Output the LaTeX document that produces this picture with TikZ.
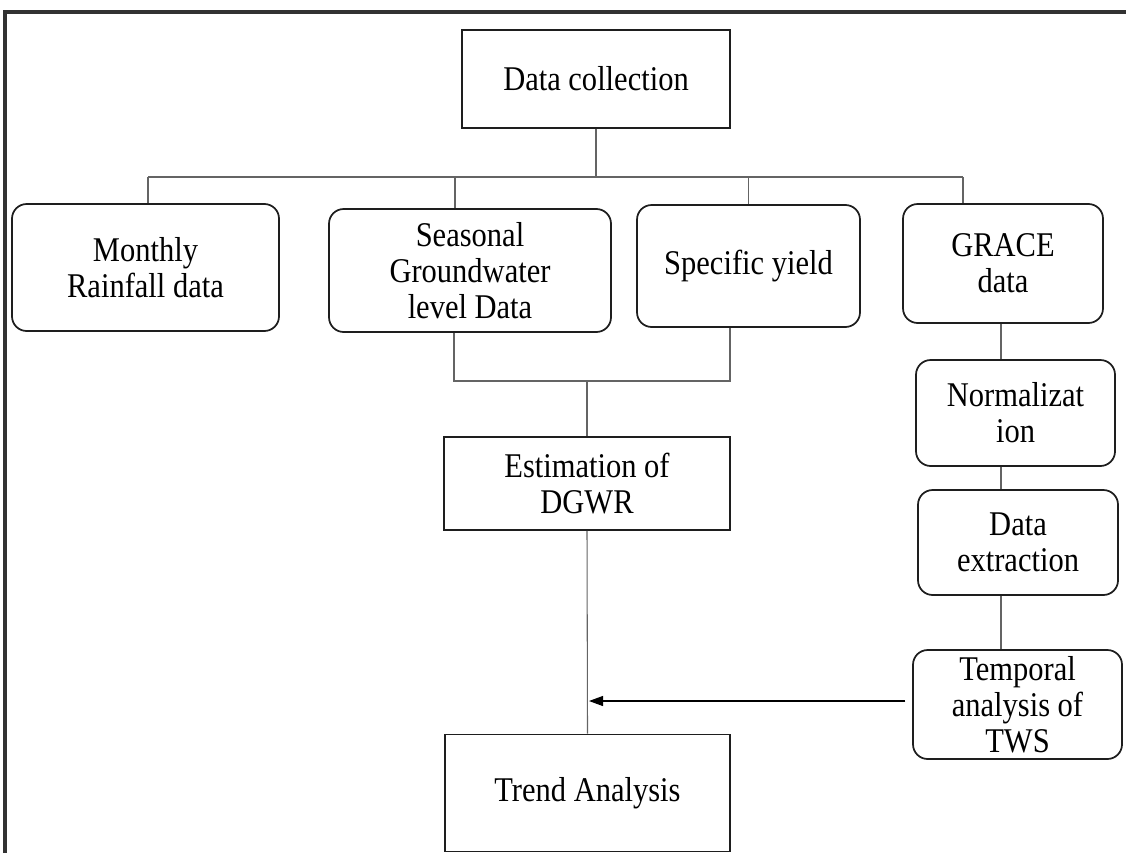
\documentclass[tikz,border=0pt]{standalone}
\usepackage{amsmath,amssymb}
\usepackage{fontspec}
\setmainfont[FakeStretch=0.88]{Liberation Serif}
\usetikzlibrary{arrows.meta}

\tikzset{
  blockbox/.style={draw={rgb, 255:red, 30; green, 30; blue, 30 }, line width=1.3pt, rectangle, align=center, inner sep=2pt},
  roundbox/.style={blockbox, rounded corners=11pt},
  wire/.style={draw={rgb, 255:red, 100; green, 100; blue, 100 }, line width=0.8pt},
  frameline/.style={draw={rgb, 255:red, 50; green, 50; blue, 50 }, line width=2.6pt}
}

\begin{document}
\begin{tikzpicture}[x=0.75pt,y=0.75pt,yscale=-1,xscale=1,font=\fontsize{26}{27}\selectfont]
\useasboundingbox (0,0) rectangle (1126,853);

%Frame
\draw [frameline] (5,853) -- (5,12) -- (1126,12) ;

%Shape: Rectangle [id:collect]
\node [blockbox, minimum width=268*0.75pt, minimum height=98*0.75pt] (collect) at (596,79) {Data collection};

%Shape: Rounded Rect [id:monthly]
\node [roundbox, minimum width=267*0.75pt, minimum height=127*0.75pt] (monthly) at (145.5,267.5) {Monthly\\Rainfall data};
%Shape: Rounded Rect [id:seasonal]
\node [roundbox, minimum width=282*0.75pt, minimum height=123*0.75pt] (seasonal) at (470,270.5) {Seasonal\\Groundwater\\level Data};
%Shape: Rounded Rect [id:specific]
\node [roundbox, minimum width=223*0.75pt, minimum height=122*0.75pt] (specific) at (748.5,266) {Specific yield};
%Shape: Rounded Rect [id:grace]
\node [roundbox, minimum width=200*0.75pt, minimum height=119*0.75pt] (grace) at (1003,263.5) {GRACE\\data};

%Shape: Rounded Rect [id:normal]
\node [roundbox, minimum width=199*0.75pt, minimum height=106*0.75pt] (normal) at (1015.5,413) {Normalizat\\ion};
%Shape: Rounded Rect [id:extract]
\node [roundbox, minimum width=200*0.75pt, minimum height=105*0.75pt] (extract) at (1018,542.5) {Data\\extraction};
%Shape: Rounded Rect [id:temporal]
\node [roundbox, minimum width=209*0.75pt, minimum height=109*0.75pt] (temporal) at (1017.5,704.5) {Temporal\\analysis of\\TWS};

%Shape: Rectangle [id:dgwr]
\node [blockbox, minimum width=286*0.75pt, minimum height=93*0.75pt] (dgwr) at (587,483.5) {Estimation of\\DGWR};
%Shape: Rectangle [id:trend]
\node [blockbox, minimum width=285*0.75pt, minimum height=117*0.75pt] (trend) at (587.5,793) {Trend Analysis};

%Straight Lines [id:bus]
\coordinate (busL) at (148,177) ;
\coordinate (busS) at (455,177) ;
\coordinate (busR) at (963,177) ;
\draw [wire] (collect.south) -- (collect.south |- busL) ;
\draw [wire] (busL) -- (busR) ;
\draw [wire] (busL) -- (busL |- monthly.north) ;
\draw [wire] (busS) -- (busS |- seasonal.north) ;
\draw [wire] (specific.north |- busL) -- (specific.north) ;
\draw [wire] (busR) -- (busR |- grace.north) ;

%Straight Lines [id:join]
\coordinate (joinL) at (454,381) ;
\coordinate (joinR) at (730,381) ;
\draw [wire] (joinL |- seasonal.south) -- (joinL) -- (joinR) -- (joinR |- specific.south) ;
\draw [wire] (dgwr.north |- joinL) -- (dgwr.north) ;
\draw [wire] (dgwr.south) -- (trend.north) ;

%Straight Lines [id:chain]
\coordinate (chain) at (1001,0) ;
\draw [wire] (chain |- grace.south) -- (chain |- normal.north) ;
\draw [wire] (chain |- normal.south) -- (chain |- extract.north) ;
\draw [wire] (chain |- extract.south) -- (chain |- temporal.north) ;

%Straight Lines [id:arrow]
\coordinate (meet) at (589,701) ;
\draw [wire, draw=black, -{Triangle[length=10.5pt,width=7.5pt]}, shorten <=5pt] (meet -| temporal.west) -- (meet) ;

\end{tikzpicture}
\end{document}
